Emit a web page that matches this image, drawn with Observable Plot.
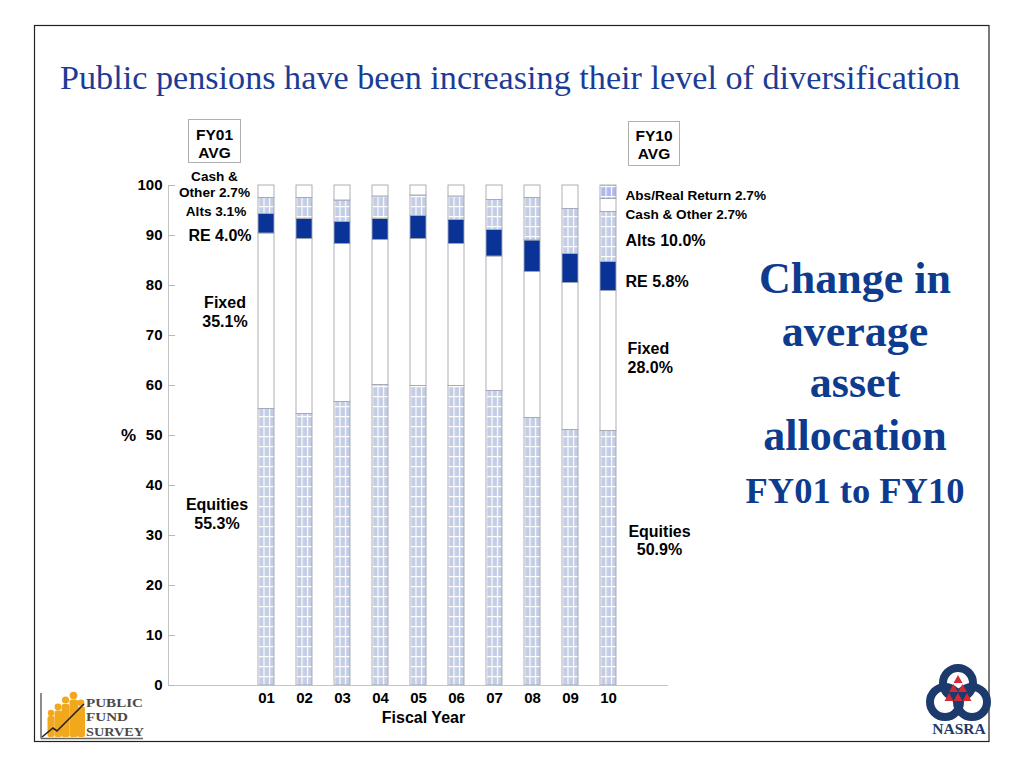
<!DOCTYPE html>
<html>
<head>
<meta charset="utf-8">
<script src="https://cdn.jsdelivr.net/npm/d3@7"></script>
<script src="https://cdn.jsdelivr.net/npm/@observablehq/plot@0.6"></script>
<style>
  html, body { margin: 0; padding: 0; background: #fff; }
  #slide { position: relative; width: 1024px; height: 768px; overflow: hidden; background: #fff; }
  #chart { position: absolute; left: 0; top: 0; }
  #overlay { position: absolute; left: 0; top: 0; pointer-events: none; }
</style>
</head>
<body>
<div id="slide">
  <div id="chart"></div>
  <svg id="overlay" width="1024" height="768" xmlns="http://www.w3.org/2000/svg">
    <rect x="34.5" y="25.5" width="954.5" height="716" fill="none" stroke="#222" stroke-width="1.2"/>
    <text x="510" y="89" text-anchor="middle" font-family="'Liberation Serif','Times New Roman',serif" font-size="34.2" fill="#1b3c96">Public pensions have been increasing their level of diversification</text>
    <g font-family="'Liberation Serif','Times New Roman',serif" font-weight="bold" fill="#0d3b8e" text-anchor="middle">
      <text x="855" y="293" font-size="44">Change in</text>
      <text x="855" y="346" font-size="44">average</text>
      <text x="855" y="397" font-size="44">asset</text>
      <text x="855" y="450" font-size="44">allocation</text>
      <text x="855" y="503" font-size="36.5">FY01 to FY10</text>
    </g>
    <g font-family="'Liberation Sans',Arial,sans-serif" font-weight="bold" font-size="15.5" text-anchor="middle" fill="#000">
      <rect x="188.5" y="119.5" width="52" height="43" fill="#fff" stroke="#b0b0b0"/>
      <text x="214.5" y="139.5">FY01</text>
      <text x="214.5" y="158">AVG</text>
      <rect x="628.5" y="121.5" width="51" height="44" fill="#fff" stroke="#b0b0b0"/>
      <text x="654" y="140.5">FY10</text>
      <text x="654" y="159">AVG</text>
    </g>
    <g>
      <line x1="41" y1="693" x2="41" y2="738.5" stroke="#666" stroke-width="1.5"/>
      <line x1="41" y1="738.5" x2="143" y2="738.5" stroke="#666" stroke-width="1.5"/>
      <g fill="#f2a81d">
        <circle cx="51" cy="713" r="3.2"/><rect x="47.5" y="716" width="7" height="21" rx="2"/>
        <circle cx="58" cy="707" r="3.4"/><rect x="54.5" y="710.5" width="7.5" height="26.5" rx="2"/>
        <circle cx="65.5" cy="700" r="3.6"/><rect x="61.5" y="704" width="8" height="33" rx="2"/>
        <circle cx="73.5" cy="695.5" r="3.8"/><rect x="69.5" y="699.5" width="8.5" height="37.5" rx="2"/>
        <circle cx="81" cy="703" r="3.4"/><rect x="77.5" y="706.5" width="7.5" height="30.5" rx="2"/>
      </g>
      <polyline points="42,737 53,728 57,731 84,704" fill="none" stroke="#222" stroke-width="1.6"/>
      <g font-family="'Liberation Serif','Times New Roman',serif" font-weight="bold" font-size="13" fill="#4a4a4a">
        <text x="86" y="707" textLength="57" lengthAdjust="spacingAndGlyphs">PUBLIC</text>
        <text x="86" y="721" textLength="42" lengthAdjust="spacingAndGlyphs">FUND</text>
        <text x="86" y="735.5" textLength="58" lengthAdjust="spacingAndGlyphs">SURVEY</text>
      </g>
    </g>
    <g>
      <circle cx="958" cy="683" r="15" fill="none" stroke="#1d3a6c" stroke-width="8"/>
      <circle cx="945" cy="702" r="15" fill="none" stroke="#1d3a6c" stroke-width="8"/>
      <circle cx="972" cy="702" r="15" fill="none" stroke="#1d3a6c" stroke-width="8"/>
      <g fill="#d42a35">
        <path d="M958,675 l4.5,8 h-9 z"/>
        <path d="M953.5,684 l4.5,8 h-9 z"/><path d="M962.5,684 l4.5,8 h-9 z"/>
        <path d="M949,693 l4.5,8 h-9 z"/><path d="M958,693 l4.5,8 h-9 z"/><path d="M967,693 l4.5,8 h-9 z"/>
      </g>
      <text x="959" y="733.5" text-anchor="middle" font-family="'Liberation Serif','Times New Roman',serif" font-weight="bold" font-size="15.5" fill="#1d3a6c">NASRA</text>
    </g>
  </svg>
</div>
<script>
// ---- data ----
const years = ["01", "02", "03", "04", "05", "06", "07", "08", "09", "10"];
const equities   = [55.3, 54.3, 56.7, 60.1, 59.9, 59.9, 58.9, 53.5, 51.1, 50.9];
const fixed      = [35.1, 35.0, 31.6, 29.0, 29.4, 28.4, 26.9, 29.2, 29.4, 28.0];
const realEstate = [3.9, 4.0, 4.4, 4.2, 4.6, 4.8, 5.3, 6.3, 5.8, 5.8];
const alts       = [3.2, 4.2, 4.3, 4.5, 4.1, 4.7, 6.0, 8.5, 9.0, 10.0];
const cashOther  = [2.5, 2.5, 3.0, 2.2, 2.0, 2.2, 2.9, 2.5, 4.7, 2.6];
const absReturn  = [0, 0, 0, 0, 0, 0, 0, 0, 0, 2.7];
const classes = ["Equities", "Fixed", "RE", "Alts", "Cash & Other", "Abs/Real Return"];
const yTicks = [0, 10, 20, 30, 40, 50, 60, 70, 80, 90, 100];
const leftLabels  = ["Cash &\nOther 2.7%", "Alts 3.1%", "RE 4.0%", "Fixed\n35.1%", "Equities\n55.3%"];
const rightLabels = ["Abs/Real Return 2.7%", "Cash & Other 2.7%", "Alts 10.0%", "RE 5.8%", "Fixed\n28.0%", "Equities\n50.9%"];

// ---- table for the library ----
const series = [equities, fixed, realEstate, alts, cashOther, absReturn];
const table = [];
years.forEach((yr, i) => {
  classes.forEach((cls, k) => {
    if (series[k][i] > 0) table.push({year: yr, cls, value: series[k][i]});
  });
});
const fills = {
  "Equities": "url(#pBlue)",
  "Fixed": "#ffffff",
  "RE": "#0a3397",
  "Alts": "url(#pBlue)",
  "Cash & Other": "#ffffff",
  "Abs/Real Return": "url(#pLav)"
};
const xDomain = ["padA", "padB", ...years, "padC"];
const font = "'Liberation Sans', Arial, Helvetica, sans-serif";

// annotation layout: [label, y, dx, fontSize, textAnchor, band]
const annotations = [
  [leftLabels[0], 100.4, -14, 13.6, "middle", "padB"],
  [leftLabels[1], 95.0, -12.5, 13.6, "middle", "padB"],
  [leftLabels[2], 90.2, -8.5, 16, "middle", "padB"],
  [leftLabels[3], 74.8, -3.5, 16, "middle", "padB"],
  [leftLabels[4], 34.4, -11.5, 16, "middle", "padB"],
  [rightLabels[0], 98.2, -21, 13.6, "start", "padC"],
  [rightLabels[1], 94.3, -21, 13.6, "start", "padC"],
  [rightLabels[2], 89.1, -21, 16, "start", "padC"],
  [rightLabels[3], 81.0, -21, 16, "start", "padC"],
  [rightLabels[4], 65.6, -19, 16, "start", "padC"],
  [rightLabels[5], 29.1, 13, 16, "middle", "padC"]
];
const annotationMarks = annotations.map(([text, y, dx, size, anchor, band]) =>
  Plot.text([text], {
    x: () => band, y: () => y, text: d => d, dx,
    fontSize: size, fontWeight: "bold", lineHeight: 1.17,
    lineAnchor: "middle", textAnchor: anchor
  })
);

const chart = Plot.plot({
  width: 1024,
  height: 768,
  marginLeft: 168,
  marginRight: 356,
  marginTop: 185,
  marginBottom: 83,
  style: {background: "transparent", fontFamily: font, color: "#000", overflow: "visible"},
  x: {domain: xDomain, paddingInner: 4 / 7, paddingOuter: 2 / 7},
  y: {domain: [0, 100]},
  color: {type: "identity"},
  marks: [
    Plot.barY(table, {
      x: "year", y: "value", z: "cls", order: classes,
      fill: d => fills[d.cls],
      stroke: "#a3a7b3", strokeWidth: 0.9
    }),
    Plot.ruleY([0], {stroke: "#c4c4c4", strokeWidth: 1}),
    Plot.frame({anchor: "left", stroke: "#c4c4c4"}),
    Plot.tickY(yTicks, {y: d => d, stroke: "#b8b8b8", insetRight: 493}),
    Plot.axisY({ticks: yTicks, tickSize: 0, tickPadding: 6, fontSize: 15, fontWeight: "bold", label: null}),
    Plot.axisX(years, {tickSize: 0, tickPadding: 7, fontSize: 15, fontWeight: "bold", label: null}),
    Plot.text(["Fiscal Year"], {text: d => d, frameAnchor: "bottom", lineAnchor: "middle", textAnchor: "middle", dx: 5, dy: 32, fontSize: 16, fontWeight: "bold"}),
    Plot.text(["%"], {text: d => d, frameAnchor: "left", y: () => 50, textAnchor: "middle", dx: -40, fontSize: 17, fontWeight: "bold"}),
    ...annotationMarks
  ]
});
document.getElementById("chart").appendChild(chart);

// patterns aligned to the library's scales
const svg = chart.tagName.toLowerCase() === "svg" ? chart : chart.querySelector("svg");
const xs = chart.scale("x");
const ys = chart.scale("y");
const x01 = xs.apply("01");
const step = xs.apply("02") - x01;
const pw = step / 7;
const ph = ys.apply(0) - ys.apply(2);
const py = ys.apply(0) + 1;
const NS = "http://www.w3.org/2000/svg";
const defs = document.createElementNS(NS, "defs");
function makePattern(id, base) {
  const p = document.createElementNS(NS, "pattern");
  p.setAttribute("id", id);
  p.setAttribute("patternUnits", "userSpaceOnUse");
  p.setAttribute("x", x01);
  p.setAttribute("y", py);
  p.setAttribute("width", pw);
  p.setAttribute("height", ph);
  const r = document.createElementNS(NS, "rect");
  r.setAttribute("width", pw); r.setAttribute("height", ph); r.setAttribute("fill", base);
  const v = document.createElementNS(NS, "rect");
  v.setAttribute("x", 0); v.setAttribute("width", 1.2); v.setAttribute("height", ph); v.setAttribute("fill", "#fff");
  const h = document.createElementNS(NS, "rect");
  h.setAttribute("y", 0); h.setAttribute("width", pw); h.setAttribute("height", 1.2); h.setAttribute("fill", "#fff");
  p.appendChild(r); p.appendChild(v); p.appendChild(h);
  defs.appendChild(p);
}
makePattern("pBlue", "#c3cde6");
makePattern("pLav", "#b2b6ef");
svg.insertBefore(defs, svg.firstChild);
</script>
</body>
</html>
